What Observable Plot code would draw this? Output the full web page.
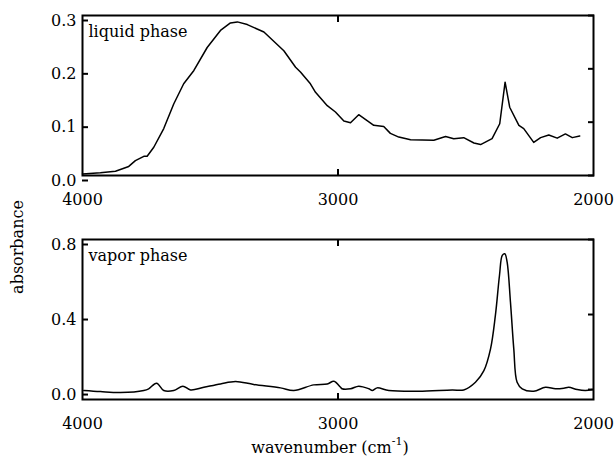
<!DOCTYPE html>
<html>
<head>
<meta charset="utf-8">
<script src="https://cdn.jsdelivr.net/npm/d3@7"></script>
<script src="https://cdn.jsdelivr.net/npm/@observablehq/plot@0.6"></script>
<style>
  body { margin: 0; background: #fff; }
  #wrap { position: relative; width: 615px; height: 464px; font-family: "DejaVu Serif", serif; color: #000; }
  #top, #bot { position: absolute; left: 0; }
  #top { top: 0; }
  #bot { top: 215px; }
  #ylab { position: absolute; left: 18px; top: 247px; transform: translate(-50%, -50%) rotate(-90deg); font-size: 16px; line-height: 1; white-space: nowrap; }
  #xlab { position: absolute; left: 330px; top: 448px; transform: translate(-50%, -50%); font-size: 16px; line-height: 1; white-space: nowrap; }
  #xlab sup { font-size: 11px; line-height: 0; position: relative; top: -2px; }
</style>
</head>
<body>
<div id="wrap">
  <div id="top"></div>
  <div id="bot"></div>
  <div id="ylab">absorbance</div>
  <div id="xlab">wavenumber (cm<sup>-1</sup>)</div>
</div>
<script>
// ---- data ----
const xTicks = [4000, 3000, 2000];
const innerXTicks = [3000];
const liquidYTicks = [0, 0.1, 0.2, 0.3];
const vaporYTicks = [0, 0.4, 0.8];
const panelLabels = ["liquid phase", "vapor phase"];

const liquidWavenumber = [4000,3930,3871,3819,3793,3760,3747,3721,3682,3643,3604,3564,3512,3460,3421,3394,3355,3290,3212,3166,3147,3108,3088,3042,3010,2977,2951,2919,2886,2860,2821,2795,2762,2716,2625,2579,2547,2508,2468,2442,2397,2367,2346,2328,2292,2273,2234,2207,2175,2142,2110,2083,2054];
const liquidAbsorbance = [0.003,0.005,0.008,0.017,0.028,0.036,0.036,0.053,0.088,0.134,0.172,0.197,0.240,0.272,0.286,0.288,0.283,0.269,0.234,0.203,0.194,0.172,0.156,0.131,0.119,0.102,0.099,0.114,0.103,0.094,0.092,0.079,0.072,0.067,0.066,0.073,0.069,0.071,0.061,0.058,0.069,0.097,0.175,0.128,0.094,0.088,0.062,0.071,0.076,0.070,0.078,0.071,0.074];

const vaporWavenumber = [3995,3930,3851,3760,3741,3710,3682,3643,3607,3577,3525,3460,3401,3330,3225,3173,3095,3042,3016,2990,2984,2951,2919,2879,2866,2847,2801,2684,2553,2508,2462,2429,2403,2384,2368,2357,2347,2338,2325,2312,2299,2279,2234,2188,2149,2116,2097,2064,2032,2005];
const vaporAbsorbance = [-0.005,-0.011,-0.016,-0.005,0.004,0.034,-0.005,-0.005,0.018,-0.002,0.012,0.030,0.043,0.027,0.009,-0.005,0.025,0.030,0.044,0.012,0.004,0.004,0.018,0.004,-0.005,0.009,-0.005,-0.009,-0.002,-0.002,0.039,0.101,0.217,0.395,0.608,0.715,0.724,0.679,0.466,0.217,0.039,0.004,-0.009,0.012,0.004,0.007,0.012,0.000,-0.005,0.000];

const liquid = liquidWavenumber.map((w, i) => ({w, a: liquidAbsorbance[i]}));
const vapor = vaporWavenumber.map((w, i) => ({w, a: vaporAbsorbance[i]}));

function panel({data, yDomain, yTicks, label, height, marginTop, marginBottom, curve}) {
  return Plot.plot({
    width: 615,
    height,
    marginLeft: 82,
    marginRight: 22,
    marginTop,
    marginBottom,
    style: {fontFamily: "DejaVu Serif, serif", fontSize: "16px", color: "#000", background: "#fff", overflow: "visible"},
    x: {domain: [4000, 2000], label: null},
    y: {domain: yDomain, label: null},
    marks: [
      Plot.axisX({anchor: "bottom", ticks: xTicks, tickSize: 0, tickPadding: 18, tickFormat: d => String(d), label: null}),
      Plot.axisX({anchor: "bottom", ticks: innerXTicks, tickSize: -6, strokeWidth: 2, fill: "none", label: null}),
      Plot.axisX({anchor: "top", ticks: innerXTicks, tickSize: -6, strokeWidth: 2, fill: "none", label: null}),
      Plot.axisY({anchor: "left", ticks: yTicks, tickSize: -6, tickPadding: 12, strokeWidth: 2, tickFormat: ".1f", dy: 5, label: null}),
      Plot.axisY({anchor: "right", ticks: yTicks, tickSize: -6, strokeWidth: 2, fill: "none", label: null}),
      Plot.line(data, {x: "w", y: "a", stroke: "#000", strokeWidth: 1.5, curve}),
      Plot.text([label], {frameAnchor: "top-left", text: d => d, textAnchor: "start", lineAnchor: "top", dx: 6, dy: 10, fontSize: 16, fill: "#000"}),
      Plot.frame({stroke: "#000", strokeWidth: 2})
    ]
  });
}

document.getElementById("top").append(panel({
  data: liquid, yDomain: [0, 0.3], yTicks: liquidYTicks, label: panelLabels[0],
  height: 215, marginTop: 15, marginBottom: 40, curve: "linear"
}));
document.getElementById("bot").append(panel({
  data: vapor, yDomain: [-0.053, 0.8], yTicks: vaporYTicks, label: panelLabels[1],
  height: 249, marginTop: 24, marginBottom: 65, curve: "catmull-rom"
}));
</script>
</body>
</html>
